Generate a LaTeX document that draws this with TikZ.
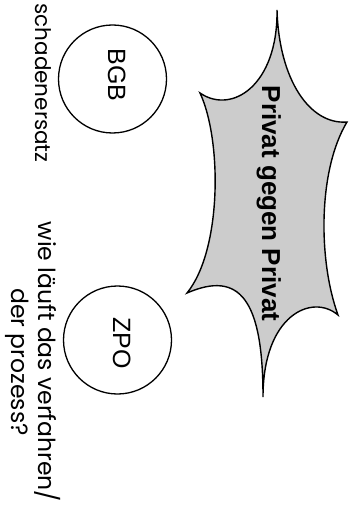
\documentclass[tikz,border=0pt]{standalone}
\usepackage{fontspec}
\setmainfont{Liberation Sans}
\newfontfamily\handfont{Poppins}
\definecolor{burstgray}{RGB}{204,204,204}
\tikzset{
  circ/.style={draw, line width=1.3pt, circle, minimum size=108pt, inner sep=0pt},
  circlabel/.style={rotate=-90, anchor=base, inner sep=0pt, font=\fontsize{25}{30}\selectfont},
  hand/.style={rotate=-90, anchor=base, inner sep=0pt, font=\handfont\fontsize{23.5}{27}\selectfont},
  burst/.style={draw, line width=1.4pt, fill=burstgray, line join=miter},
  title/.style={rotate=-90, anchor=base, inner sep=0pt, font=\bfseries\fontsize{26}{30}\selectfont}
}
\begin{document}
\begin{tikzpicture}[x=1pt,y=-1pt]
\useasboundingbox (0,0) rectangle (351,510);
% burst points
\coordinate (T) at (277,10);
\coordinate (TL) at (200,93);
\coordinate (TR) at (347,122);
\coordinate (BR) at (338,315);
\coordinate (B) at (263,397);
\coordinate (BL) at (187,293);
\draw[burst] (T) .. controls (279,80) and (310,125) .. (TR)
  .. controls (318,170) and (318,260) .. (BR)
  .. controls (312,293) and (263,315) .. (B)
  .. controls (263,300) and (240,270) .. (BL)
  .. controls (222,250) and (222,140) .. (TL)
  .. controls (232,115) and (278,85) .. (T) -- cycle;
\node[title] (title) at (262,203.5) {Privat gegen Privat};
% circles
\node[circ] (bgb) at (112.5,79) {};
\node[circlabel] (bgbt) at (108,75) {BGB};
\node[circ] (zpo) at (117.5,340) {};
\node[circlabel] (zpot) at (113,343) {ZPO};
% handwriting texts
\node[hand, font=\handfont\fontsize{21.5}{27}\selectfont] (schaden) at (35,83) {schadenersatz};
\node[hand, align=center] (frage) at (11,362) {wie läuft das verfahren/\\der prozess?};
\end{tikzpicture}
\end{document}
